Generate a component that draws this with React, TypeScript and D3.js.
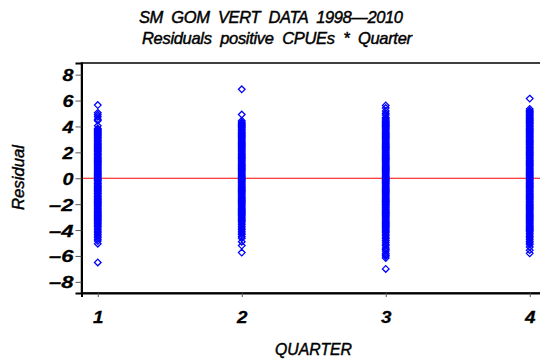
import React, { useEffect, useRef } from "react";
import { select, scaleLinear, axisLeft, axisBottom, symbol, symbolDiamond2 } from "d3";

const titleLines = ["SM  GOM  VERT  DATA  1998\u20142010", "Residuals  positive  CPUEs  *  Quarter"];
const titleWidths = [264, 270];
const quarters = [1, 2, 3, 4];
const yTicks = [-8, -6, -4, -2, 0, 2, 4, 6, 8];

// residuals (columns are heavily overplotted)
const q1 = [5.65, 5.05, 4.9, 4.75, 4.55, 4.45, 4.05, 3.85, 3.78, 3.7, 3.62, 3.55, 3.46, 3.38, 3.3, 3.21, 3.12, 3.05, 2.96, 2.88, 2.8, 2.71, 2.62, 2.55, 2.46, 2.38, 2.3, 2.21, 2.12, 2.04, 1.95, 1.87, 1.8, 1.71, 1.62, 1.54, 1.46, 1.37, 1.3, 1.21, 1.12, 1.04, 0.96, 0.87, 0.8, 0.71, 0.62, 0.54, 0.46, 0.37, 0.3, 0.21, 0.12, 0.04, -0.05, -0.13, -0.2, -0.29, -0.38, -0.45, -0.54, -0.63, -0.7, -0.79, -0.88, -0.95, -1.04, -1.13, -1.2, -1.29, -1.38, -1.45, -1.54, -1.63, -1.7, -1.79, -1.88, -1.95, -2.04, -2.13, -2.2, -2.29, -2.38, -2.45, -2.54, -2.63, -2.7, -2.79, -2.88, -2.95, -3.04, -3.13, -3.2, -3.29, -3.38, -3.45, -3.54, -3.63, -3.72, -3.85, -3.97, -4.1, -4.2, -4.33, -4.45, -4.56, -4.7, -4.85, -5.05, -6.5];
const q2 = [6.87, 4.92, 4.45, 4.32, 4.24, 4.15, 4.07, 3.98, 3.9, 3.81, 3.73, 3.64, 3.56, 3.47, 3.39, 3.3, 3.22, 3.13, 3.05, 2.96, 2.88, 2.79, 2.71, 2.62, 2.54, 2.45, 2.37, 2.28, 2.2, 2.11, 2.03, 1.94, 1.86, 1.77, 1.69, 1.6, 1.52, 1.43, 1.35, 1.26, 1.18, 1.09, 1.01, 0.92, 0.84, 0.75, 0.67, 0.58, 0.5, 0.41, 0.33, 0.24, 0.16, 0.07, -0.01, -0.1, -0.18, -0.27, -0.35, -0.44, -0.52, -0.61, -0.69, -0.78, -0.86, -0.95, -1.03, -1.12, -1.2, -1.29, -1.37, -1.46, -1.54, -1.63, -1.71, -1.8, -1.88, -1.97, -2.05, -2.14, -2.22, -2.31, -2.39, -2.48, -2.56, -2.65, -2.73, -2.82, -2.9, -2.99, -3.07, -3.16, -3.24, -3.33, -3.45, -3.58, -3.7, -3.84, -3.96, -4.1, -4.22, -4.35, -4.5, -4.63, -4.9, -5.2, -5.74];
const q3 = [5.62, 5.42, 5.2, 5.02, 4.88, 4.7, 4.6, 4.5, 4.41, 4.33, 4.24, 4.16, 4.07, 3.99, 3.9, 3.82, 3.73, 3.65, 3.56, 3.48, 3.39, 3.31, 3.22, 3.14, 3.05, 2.97, 2.88, 2.8, 2.71, 2.63, 2.54, 2.46, 2.37, 2.29, 2.2, 2.12, 2.03, 1.95, 1.86, 1.78, 1.69, 1.61, 1.52, 1.44, 1.35, 1.27, 1.18, 1.1, 1.01, 0.93, 0.84, 0.76, 0.67, 0.59, 0.5, 0.42, 0.33, 0.25, 0.16, 0.08, -0.01, -0.09, -0.18, -0.26, -0.35, -0.43, -0.52, -0.6, -0.69, -0.77, -0.86, -0.94, -1.03, -1.11, -1.2, -1.28, -1.37, -1.45, -1.54, -1.62, -1.71, -1.79, -1.88, -1.96, -2.05, -2.13, -2.22, -2.3, -2.39, -2.47, -2.56, -2.64, -2.73, -2.81, -2.9, -2.98, -3.07, -3.15, -3.24, -3.32, -3.41, -3.49, -3.58, -3.66, -3.75, -3.83, -3.92, -4.0, -4.09, -4.17, -4.3, -4.42, -4.55, -4.68, -4.8, -4.95, -5.1, -5.22, -5.38, -5.5, -5.62, -5.8, -5.92, -6.0, -6.15, -7.0];
const q4 = [6.15, 5.35, 5.22, 5.14, 5.05, 4.97, 4.88, 4.8, 4.71, 4.63, 4.54, 4.46, 4.37, 4.29, 4.2, 4.12, 4.03, 3.95, 3.86, 3.78, 3.69, 3.61, 3.52, 3.44, 3.35, 3.27, 3.18, 3.1, 3.01, 2.93, 2.84, 2.76, 2.67, 2.59, 2.5, 2.42, 2.33, 2.25, 2.16, 2.08, 1.99, 1.91, 1.82, 1.74, 1.65, 1.57, 1.48, 1.4, 1.31, 1.23, 1.14, 1.06, 0.97, 0.89, 0.8, 0.72, 0.63, 0.55, 0.46, 0.38, 0.29, 0.21, 0.12, 0.04, -0.05, -0.13, -0.22, -0.3, -0.39, -0.47, -0.56, -0.64, -0.73, -0.81, -0.9, -0.98, -1.07, -1.15, -1.24, -1.32, -1.41, -1.49, -1.58, -1.66, -1.75, -1.83, -1.92, -2.0, -2.09, -2.17, -2.26, -2.34, -2.43, -2.51, -2.6, -2.68, -2.77, -2.85, -2.94, -3.02, -3.11, -3.19, -3.28, -3.36, -3.45, -3.53, -3.62, -3.7, -3.79, -3.87, -3.96, -4.04, -4.13, -4.25, -4.38, -4.5, -4.62, -4.75, -4.88, -5.0, -5.12, -5.3, -5.55, -5.8];
const residuals = [q1, q2, q3, q4];

const W = 540;
const H = 362;
const margin = { top: 63, right: -6, bottom: 69, left: 81.5 };
const font = "'Liberation Sans', Arial, sans-serif";

const italicText = (sel: any, size: number) =>
  sel
    .style("font-family", font)
    .style("font-style", "italic")
    .style("font-size", `${size}px`)
    .style("white-space", "pre")
    .attr("fill", "#000")
    .attr("stroke", "#000")
    .attr("stroke-width", 0.45);

const tickText = (sel: any) =>
  sel
    .style("font-family", font)
    .style("font-style", "italic")
    .style("font-weight", "bold")
    .style("font-size", "16.5px")
    .attr("fill", "#000")
    .attr("stroke", "#000")
    .attr("stroke-width", 0.3)
    .attr("lengthAdjust", "spacingAndGlyphs");

export default function App() {
  const svgRef = useRef<SVGSVGElement>(null);

  useEffect(() => {
    const svg = select(svgRef.current);
    svg.selectAll("*").remove();

    const x = scaleLinear().domain([0.887, 4.113]).range([margin.left, W - margin.right]);
    const y = scaleLinear().domain([-8.86, 8.9]).range([H - margin.bottom, margin.top]);

    // titles
    svg
      .selectAll("text.title")
      .data(titleLines)
      .join("text")
      .attr("class", "title")
      .attr("x", (_, i) => (i === 0 ? 271 : 277))
      .attr("y", (_, i) => 22.8 + i * 21)
      .attr("text-anchor", "middle")
      .attr("textLength", (_, i) => titleWidths[i])
      .attr("lengthAdjust", "spacing")
      .call(italicText, 16.5)
      .text((d) => d);

    // zero reference line
    svg
      .append("line")
      .attr("x1", x.range()[0])
      .attr("x2", x.range()[1])
      .attr("y1", y(0))
      .attr("y2", y(0))
      .attr("stroke", "#ff0000")
      .attr("stroke-width", 1);

    // points
    const diamond = symbol().type(symbolDiamond2).size(28);
    const pts = residuals.flatMap((vals, i) => vals.map((v) => ({ q: quarters[i], v })));
    svg
      .append("g")
      .selectAll("path")
      .data(pts)
      .join("path")
      .attr("d", diamond as any)
      .attr("transform", (d) => `translate(${x(d.q)},${y(d.v)})`)
      .attr("fill", "none")
      .attr("stroke", "#0000ff")
      .attr("stroke-width", 1.3);

    // frame
    svg
      .append("rect")
      .attr("x", margin.left)
      .attr("y", margin.top)
      .attr("width", W - margin.right - margin.left)
      .attr("height", H - margin.bottom - margin.top)
      .attr("fill", "none")
      .attr("stroke", "#000")
      .attr("stroke-width", 1.5);

    const yAxis = axisLeft(y)
      .tickValues(yTicks)
      .tickSize(6)
      .tickPadding(2)
      .tickFormat((d: any) => (d < 0 ? "\u2013" + Math.abs(d) : String(d)));
    const gy = svg.append("g").attr("transform", `translate(${margin.left},0)`).call(yAxis);
    gy.select(".domain").attr("stroke", "#000").attr("stroke-width", 2);
    gy.selectAll(".tick line").attr("stroke", "#555");
    gy.selectAll(".tick text")
      .call(tickText)
      .attr("dy", "0.36em")
      .attr("textLength", (d: any) => (d < 0 ? 24.5 : 11));

    const xAxis = axisBottom(x).tickValues(quarters).tickSize(4).tickPadding(14).tickFormat((d: any) => String(d));
    const gx = svg.append("g").attr("transform", `translate(0,${H - margin.bottom})`).call(xAxis);
    gx.select(".domain").attr("stroke", "#000").attr("stroke-width", 2);
    gx.selectAll(".tick line").attr("stroke", "#555");
    gx.selectAll(".tick text").call(tickText).attr("textLength", 10.5);

    // axis labels
    svg
      .append("text")
      .attr("transform", `translate(23.5,177.5) rotate(-90)`)
      .attr("text-anchor", "middle")
      .attr("textLength", 65)
      .attr("lengthAdjust", "spacingAndGlyphs")
      .call(italicText, 17)
      .text("Residual");

    svg
      .append("text")
      .attr("x", 313.5)
      .attr("y", 354.5)
      .attr("text-anchor", "middle")
      .attr("textLength", 77)
      .attr("lengthAdjust", "spacingAndGlyphs")
      .call(italicText, 16.5)
      .text("QUARTER");
  }, []);

  return (
    <svg
      ref={svgRef}
      width={W}
      height={H}
      style={{ position: "absolute", left: 0, top: 0, background: "#fff" }}
    />
  );
}
